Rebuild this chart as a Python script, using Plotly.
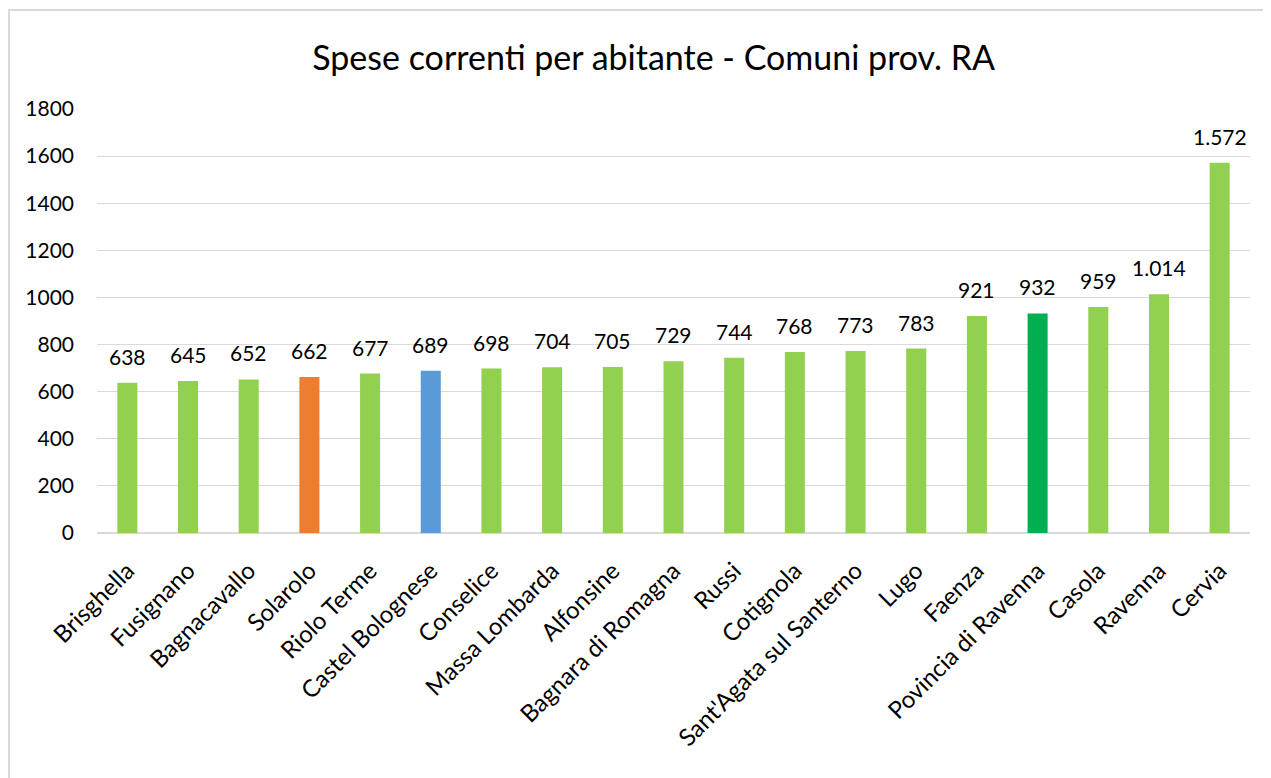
import plotly.graph_objects as go

categories = ["Brisghella", "Fusignano", "Bagnacavallo", "Solarolo", "Riolo Terme",
              "Castel Bolognese", "Conselice", "Massa Lombarda", "Alfonsine",
              "Bagnara di Romagna", "Russi", "Cotignola", "Sant'Agata sul Santerno",
              "Lugo", "Faenza", "Povincia di Ravenna", "Casola", "Ravenna", "Cervia"]
values = [638, 645, 652, 662, 677, 689, 698, 704, 705, 729, 744, 768, 773, 783,
          921, 932, 959, 1014, 1572]
colors = ["#92D050"] * 3 + ["#ED7D31", "#92D050", "#5B9BD5"] + ["#92D050"] * 9 + \
         ["#00B050", "#92D050", "#92D050", "#92D050"]
y_ticks = [0, 200, 400, 600, 800, 1000, 1200, 1400, 1600, 1800]

FONT = "Lato, Carlito, Calibri, 'Open Sans', sans-serif"

fig = go.Figure()
fig.add_trace(go.Bar(x=categories, y=values, marker=dict(color=colors, line=dict(width=0)),
                     hoverinfo="x+y"))

for c, v in zip(categories, values):
    fig.add_annotation(x=c, y=v, text=f"{v:,}".replace(",", "."), showarrow=False,
                       yanchor="bottom", yshift=12, font=dict(size=21, color="#000000", family=FONT))

# outer chart border (figure coords offset by page margin)
fig.add_shape(type="rect", xref="paper", yref="paper", x0=-0.0763, x1=1.2, y0=-0.8, y1=1.2335,
              line=dict(color="#D9D9D9", width=2), fillcolor="rgba(0,0,0,0)", layer="below")

fig.update_layout(
    width=1271, height=778,
    margin=dict(l=89, r=29, t=101, b=253),
    paper_bgcolor="white", plot_bgcolor="white",
    bargap=0.67,
    showlegend=False,
    title=dict(text="Spese correnti per abitante - Comuni prov. RA", x=0.508, xanchor="center",
               y=0.935, yanchor="middle", font=dict(size=34, color="#000000", family=FONT)),
    font=dict(family=FONT, color="#000000"),
)
fig.update_xaxes(tickangle=-45, tickfont=dict(size=24, color="#000000"), showgrid=False,
                 showline=False, ticks="", ticklabelstandoff=18)
fig.update_yaxes(range=[0, 1800], tickvals=y_ticks, ticktext=[str(t) for t in y_ticks],
                 showgrid=True, gridcolor="#D9D9D9", gridwidth=1.3, zeroline=True,
                 zerolinecolor="#D9D9D9", zerolinewidth=1.5, tickfont=dict(size=21, color="#000000"),
                 ticklabelstandoff=22, showline=False, ticks="")

fig.write_html("out.html")
